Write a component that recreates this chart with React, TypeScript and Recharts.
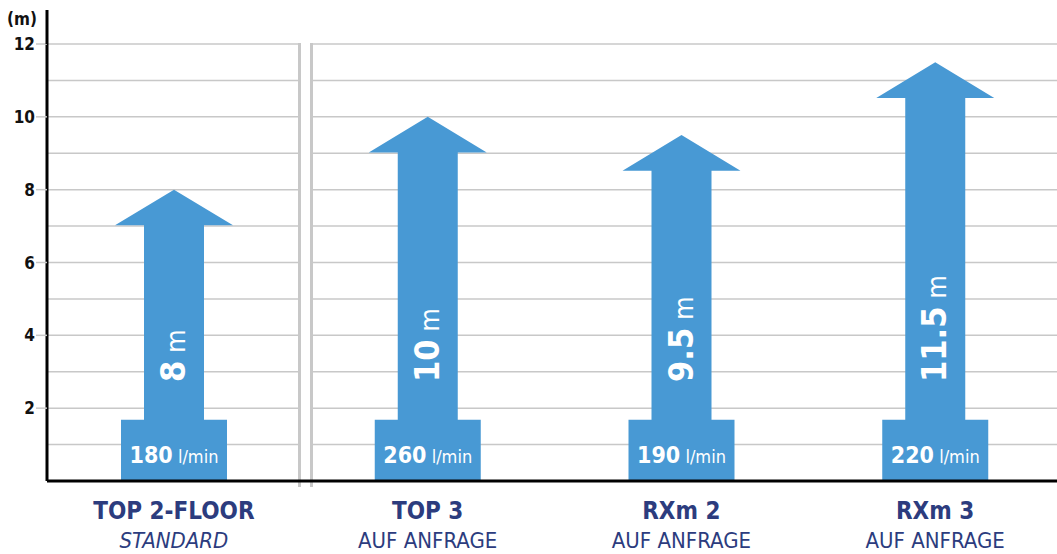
import React from "react";
import { Bar, BarChart, CartesianGrid, XAxis, YAxis } from "recharts";

const categories = ["TOP 2-FLOOR", "TOP 3", "RXm 2", "RXm 3"];
const subtitles = ["STANDARD", "AUF ANFRAGE", "AUF ANFRAGE", "AUF ANFRAGE"];
const liftHeights = [8, 10, 9.5, 11.5];
const flowRates = [180, 260, 190, 220];
const gridTicks = [0, 1, 2, 3, 4, 5, 6, 7, 8, 9, 10, 11, 12];
const labelTicks = [2, 4, 6, 8, 10, 12];

const data = categories.map((name, i) => ({
  name,
  sub: subtitles[i],
  height: liftHeights[i],
  flow: flowRates[i],
}));

const BLUE = "#4899d4";
const NAVY = "#2c3c7e";
const GRID = "#c8c8c8";
const FONT = "'Liberation Sans Narrow', 'DejaVu Sans Condensed', sans-serif";

function ArrowShape(props: any) {
  const { x, y, width, height, index, payload } = props;
  const cx = x + width / 2;
  const base = y + height;
  const unit = height / payload.height;
  const headBase = y + unit * 0.98;
  const boxTop = base - unit * 1.68;
  const d = [
    `M${cx},${y}`,
    `L${cx + 59},${headBase}`,
    `L${cx + 30},${headBase}`,
    `L${cx + 30},${boxTop}`,
    `L${cx + 53},${boxTop}`,
    `L${cx + 53},${base}`,
    `L${cx - 53},${base}`,
    `L${cx - 53},${boxTop}`,
    `L${cx - 30},${boxTop}`,
    `L${cx - 30},${headBase}`,
    `L${cx - 59},${headBase}`,
    "Z",
  ].join(" ");
  const top = base - unit * 12;
  const sep = x + width;
  return (
    <g>
      {index === 0 && (
        <g>
          <rect x={sep - 1} y={top - 2} width={11} height={base - top} fill="#fff" />
          <line x1={sep - 1.5} x2={sep - 1.5} y1={top - 1} y2={base + 6} stroke={GRID} strokeWidth={3} />
          <line x1={sep + 10.5} x2={sep + 10.5} y1={top - 1} y2={base + 6} stroke={GRID} strokeWidth={3} />
        </g>
      )}
      <path d={d} fill={BLUE} />
      <text
        transform={`translate(${cx + 11},${base - 99}) rotate(-90)`}
        fill="#fff"
        fontFamily={FONT}
        textAnchor="start"
      >
        <tspan fontSize={34} fontWeight="bold">{String(payload.height)}</tspan>
        <tspan fontSize={27}> m</tspan>
      </text>
      <text x={cx} y={base - 18} fill="#fff" fontFamily={FONT} textAnchor="middle">
        <tspan fontSize={23} fontWeight="bold">{payload.flow}</tspan>
        <tspan fontSize={18}> l/min</tspan>
      </text>
    </g>
  );
}

function YTick(props: any) {
  const { x, y, payload } = props;
  const v = payload.value;
  if (!labelTicks.includes(v)) return null;
  return (
    <g>
      <line x1={x - 11} x2={x} y1={y} y2={y} stroke={GRID} strokeWidth={1.5} />
      <text x={x - 12} y={y + 6} textAnchor="end" fontFamily={FONT} fontWeight="bold" fontSize={17} fill="#111">
        {v}
      </text>
      {v === 12 && (
        <g>
          <line x1={x} x2={x} y1={y - 34} y2={y} stroke="#000" strokeWidth={3} />
          <text x={x - 10} y={y - 19} textAnchor="end" fontFamily={FONT} fontWeight="bold" fontSize={17} fill="#111">
            (m)
          </text>
        </g>
      )}
    </g>
  );
}

function XTick(props: any) {
  const { x, y, payload, index } = props;
  return (
    <g>
      <text x={x} y={y + 38} textAnchor="middle" fontFamily={FONT} fontWeight="bold" fontSize={24} fill={NAVY}>
        {payload.value}
      </text>
      <text
        x={x}
        y={y + 67}
        textAnchor="middle"
        fontFamily={FONT}
        fontSize={22}
        fontStyle={index === 0 ? "italic" : "normal"}
        fill={NAVY}
      >
        {subtitles[index]}
      </text>
    </g>
  );
}

export default function App() {
  return (
    <div style={{ position: "absolute", left: 0, top: 0, width: 1057, height: 554, overflow: "hidden", background: "#fff" }}>
      <BarChart
        width={1070}
        height={554}
        data={data}
        margin={{ top: 44, right: 8, left: 0, bottom: 0 }}
        barCategoryGap={0}
      >
        <CartesianGrid vertical={false} stroke={GRID} strokeWidth={1.5} />
        <Bar dataKey="height" shape={<ArrowShape />} isAnimationActive={false} />
        <YAxis
          domain={[0, 12]}
          ticks={gridTicks}
          interval={0}
          width={47}
          tickSize={0}
          tickMargin={0}
          tickLine={false}
          axisLine={{ stroke: "#000", strokeWidth: 3 }}
          tick={<YTick />}
        />
        <XAxis
          dataKey="name"
          height={73}
          tickSize={0}
          tickMargin={0}
          tickLine={false}
          axisLine={{ stroke: "#000", strokeWidth: 3 }}
          tick={<XTick />}
          interval={0}
        />
      </BarChart>
    </div>
  );
}
